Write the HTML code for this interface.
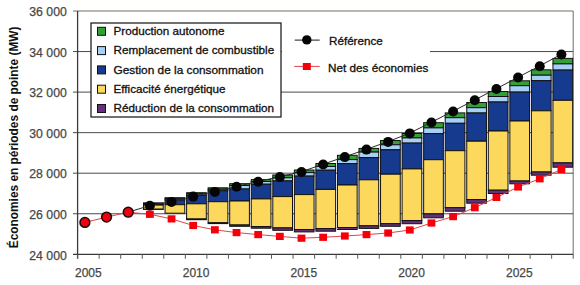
<!DOCTYPE html>
<html><head><meta charset="utf-8"><style>
html,body{margin:0;padding:0;background:#fff;}
svg{display:block;font-family:"Liberation Sans",sans-serif;}
</style></head><body>
<svg width="580" height="285" viewBox="0 0 580 285">
<line x1="73" y1="11.0" x2="573.2" y2="11.0" stroke="#a59f96" stroke-width="1.3"/>
<line x1="573.2" y1="11.0" x2="573.2" y2="254.3" stroke="#7a7a7a" stroke-width="1.1"/>
<line x1="73" y1="51.55" x2="573.2" y2="51.55" stroke="#4a4a4a" stroke-width="1"/>
<line x1="73" y1="92.10" x2="573.2" y2="92.10" stroke="#4a4a4a" stroke-width="1"/>
<line x1="73" y1="132.65" x2="573.2" y2="132.65" stroke="#4a4a4a" stroke-width="1"/>
<line x1="73" y1="173.20" x2="573.2" y2="173.20" stroke="#4a4a4a" stroke-width="1"/>
<line x1="73" y1="213.75" x2="573.2" y2="213.75" stroke="#4a4a4a" stroke-width="1"/>
<line x1="73" y1="254.3" x2="573.2" y2="254.3" stroke="#3a3a3a" stroke-width="1.3"/>
<line x1="77.6" y1="11.0" x2="77.6" y2="258.8" stroke="#3a3a3a" stroke-width="1.3"/>
<line x1="77.60" y1="254.3" x2="77.60" y2="258.8" stroke="#5a5a5a" stroke-width="1"/>
<line x1="99.15" y1="254.3" x2="99.15" y2="258.8" stroke="#5a5a5a" stroke-width="1"/>
<line x1="120.70" y1="254.3" x2="120.70" y2="258.8" stroke="#5a5a5a" stroke-width="1"/>
<line x1="142.24" y1="254.3" x2="142.24" y2="258.8" stroke="#5a5a5a" stroke-width="1"/>
<line x1="163.79" y1="254.3" x2="163.79" y2="258.8" stroke="#5a5a5a" stroke-width="1"/>
<line x1="185.34" y1="254.3" x2="185.34" y2="258.8" stroke="#5a5a5a" stroke-width="1"/>
<line x1="206.89" y1="254.3" x2="206.89" y2="258.8" stroke="#5a5a5a" stroke-width="1"/>
<line x1="228.43" y1="254.3" x2="228.43" y2="258.8" stroke="#5a5a5a" stroke-width="1"/>
<line x1="249.98" y1="254.3" x2="249.98" y2="258.8" stroke="#5a5a5a" stroke-width="1"/>
<line x1="271.53" y1="254.3" x2="271.53" y2="258.8" stroke="#5a5a5a" stroke-width="1"/>
<line x1="293.08" y1="254.3" x2="293.08" y2="258.8" stroke="#5a5a5a" stroke-width="1"/>
<line x1="314.63" y1="254.3" x2="314.63" y2="258.8" stroke="#5a5a5a" stroke-width="1"/>
<line x1="336.17" y1="254.3" x2="336.17" y2="258.8" stroke="#5a5a5a" stroke-width="1"/>
<line x1="357.72" y1="254.3" x2="357.72" y2="258.8" stroke="#5a5a5a" stroke-width="1"/>
<line x1="379.27" y1="254.3" x2="379.27" y2="258.8" stroke="#5a5a5a" stroke-width="1"/>
<line x1="400.82" y1="254.3" x2="400.82" y2="258.8" stroke="#5a5a5a" stroke-width="1"/>
<line x1="422.37" y1="254.3" x2="422.37" y2="258.8" stroke="#5a5a5a" stroke-width="1"/>
<line x1="443.91" y1="254.3" x2="443.91" y2="258.8" stroke="#5a5a5a" stroke-width="1"/>
<line x1="465.46" y1="254.3" x2="465.46" y2="258.8" stroke="#5a5a5a" stroke-width="1"/>
<line x1="487.01" y1="254.3" x2="487.01" y2="258.8" stroke="#5a5a5a" stroke-width="1"/>
<line x1="508.56" y1="254.3" x2="508.56" y2="258.8" stroke="#5a5a5a" stroke-width="1"/>
<line x1="530.10" y1="254.3" x2="530.10" y2="258.8" stroke="#5a5a5a" stroke-width="1"/>
<line x1="551.65" y1="254.3" x2="551.65" y2="258.8" stroke="#5a5a5a" stroke-width="1"/>
<line x1="573.20" y1="254.3" x2="573.20" y2="258.8" stroke="#5a5a5a" stroke-width="1"/>
<text x="66.8" y="16.20" text-anchor="end" font-size="12" fill="#474747" stroke="#474747" stroke-width="0.25" textLength="37.5" lengthAdjust="spacingAndGlyphs">36 000</text>
<text x="66.8" y="56.75" text-anchor="end" font-size="12" fill="#474747" stroke="#474747" stroke-width="0.25" textLength="37.5" lengthAdjust="spacingAndGlyphs">34 000</text>
<text x="66.8" y="97.30" text-anchor="end" font-size="12" fill="#474747" stroke="#474747" stroke-width="0.25" textLength="37.5" lengthAdjust="spacingAndGlyphs">32 000</text>
<text x="66.8" y="137.85" text-anchor="end" font-size="12" fill="#474747" stroke="#474747" stroke-width="0.25" textLength="37.5" lengthAdjust="spacingAndGlyphs">30 000</text>
<text x="66.8" y="178.40" text-anchor="end" font-size="12" fill="#474747" stroke="#474747" stroke-width="0.25" textLength="37.5" lengthAdjust="spacingAndGlyphs">28 000</text>
<text x="66.8" y="218.95" text-anchor="end" font-size="12" fill="#474747" stroke="#474747" stroke-width="0.25" textLength="37.5" lengthAdjust="spacingAndGlyphs">26 000</text>
<text x="66.8" y="259.50" text-anchor="end" font-size="12" fill="#474747" stroke="#474747" stroke-width="0.25" textLength="37.5" lengthAdjust="spacingAndGlyphs">24 000</text>
<text x="88.37" y="277" text-anchor="middle" font-size="12" fill="#474747" stroke="#474747" stroke-width="0.25">2005</text>
<text x="196.11" y="277" text-anchor="middle" font-size="12" fill="#474747" stroke="#474747" stroke-width="0.25">2010</text>
<text x="303.85" y="277" text-anchor="middle" font-size="12" fill="#474747" stroke="#474747" stroke-width="0.25">2015</text>
<text x="411.59" y="277" text-anchor="middle" font-size="12" fill="#474747" stroke="#474747" stroke-width="0.25">2020</text>
<text x="519.33" y="277" text-anchor="middle" font-size="12" fill="#474747" stroke="#474747" stroke-width="0.25">2025</text>
<text transform="translate(17.5,137.4) rotate(-90)" text-anchor="middle" font-size="12" font-weight="bold" fill="#111" textLength="221.8" lengthAdjust="spacingAndGlyphs">Économies en périodes de pointe (MW)</text>
<rect x="143.50" y="202.90" width="19.7" height="0.50" fill="#33a035" stroke="#111" stroke-width="1"/>
<rect x="143.50" y="203.40" width="19.7" height="0.50" fill="#a6d0f5" stroke="#111" stroke-width="1"/>
<rect x="143.50" y="203.90" width="19.7" height="1.20" fill="#163a8e" stroke="#111" stroke-width="1"/>
<rect x="143.50" y="205.10" width="19.7" height="4.10" fill="#fcd95c" stroke="#111" stroke-width="1"/>
<rect x="143.50" y="209.20" width="19.7" height="0.10" fill="#66307a" stroke="#111" stroke-width="1"/>
<rect x="165.05" y="197.70" width="19.7" height="1.10" fill="#33a035" stroke="#111" stroke-width="1"/>
<rect x="165.05" y="198.80" width="19.7" height="1.20" fill="#a6d0f5" stroke="#111" stroke-width="1"/>
<rect x="165.05" y="200.00" width="19.7" height="4.70" fill="#163a8e" stroke="#111" stroke-width="1"/>
<rect x="165.05" y="204.70" width="19.7" height="8.50" fill="#fcd95c" stroke="#111" stroke-width="1"/>
<rect x="186.60" y="192.70" width="19.7" height="1.20" fill="#33a035" stroke="#111" stroke-width="1"/>
<rect x="186.60" y="193.90" width="19.7" height="1.40" fill="#a6d0f5" stroke="#111" stroke-width="1"/>
<rect x="186.60" y="195.30" width="19.7" height="8.50" fill="#163a8e" stroke="#111" stroke-width="1"/>
<rect x="186.60" y="203.80" width="19.7" height="15.20" fill="#fcd95c" stroke="#111" stroke-width="1"/>
<rect x="186.60" y="219.00" width="19.7" height="0.70" fill="#66307a" stroke="#111" stroke-width="1"/>
<rect x="208.15" y="187.80" width="19.7" height="1.50" fill="#33a035" stroke="#111" stroke-width="1"/>
<rect x="208.15" y="189.30" width="19.7" height="1.50" fill="#a6d0f5" stroke="#111" stroke-width="1"/>
<rect x="208.15" y="190.80" width="19.7" height="10.90" fill="#163a8e" stroke="#111" stroke-width="1"/>
<rect x="208.15" y="201.70" width="19.7" height="21.10" fill="#fcd95c" stroke="#111" stroke-width="1"/>
<rect x="208.15" y="222.80" width="19.7" height="0.80" fill="#66307a" stroke="#111" stroke-width="1"/>
<rect x="229.70" y="183.70" width="19.7" height="1.80" fill="#33a035" stroke="#111" stroke-width="1"/>
<rect x="229.70" y="185.50" width="19.7" height="3.50" fill="#a6d0f5" stroke="#111" stroke-width="1"/>
<rect x="229.70" y="189.00" width="19.7" height="12.00" fill="#163a8e" stroke="#111" stroke-width="1"/>
<rect x="229.70" y="201.00" width="19.7" height="24.00" fill="#fcd95c" stroke="#111" stroke-width="1"/>
<rect x="229.70" y="225.00" width="19.7" height="1.30" fill="#66307a" stroke="#111" stroke-width="1"/>
<rect x="251.25" y="179.60" width="19.7" height="1.90" fill="#33a035" stroke="#111" stroke-width="1"/>
<rect x="251.25" y="181.50" width="19.7" height="2.70" fill="#a6d0f5" stroke="#111" stroke-width="1"/>
<rect x="251.25" y="184.20" width="19.7" height="14.70" fill="#163a8e" stroke="#111" stroke-width="1"/>
<rect x="251.25" y="198.90" width="19.7" height="27.70" fill="#fcd95c" stroke="#111" stroke-width="1"/>
<rect x="251.25" y="226.60" width="19.7" height="1.60" fill="#66307a" stroke="#111" stroke-width="1"/>
<rect x="272.80" y="175.00" width="19.7" height="2.80" fill="#33a035" stroke="#111" stroke-width="1"/>
<rect x="272.80" y="177.80" width="19.7" height="3.10" fill="#a6d0f5" stroke="#111" stroke-width="1"/>
<rect x="272.80" y="180.90" width="19.7" height="15.70" fill="#163a8e" stroke="#111" stroke-width="1"/>
<rect x="272.80" y="196.60" width="19.7" height="31.30" fill="#fcd95c" stroke="#111" stroke-width="1"/>
<rect x="272.80" y="227.90" width="19.7" height="2.40" fill="#66307a" stroke="#111" stroke-width="1"/>
<rect x="294.35" y="170.00" width="19.7" height="2.60" fill="#33a035" stroke="#111" stroke-width="1"/>
<rect x="294.35" y="172.60" width="19.7" height="3.50" fill="#a6d0f5" stroke="#111" stroke-width="1"/>
<rect x="294.35" y="176.10" width="19.7" height="18.50" fill="#163a8e" stroke="#111" stroke-width="1"/>
<rect x="294.35" y="194.60" width="19.7" height="34.90" fill="#fcd95c" stroke="#111" stroke-width="1"/>
<rect x="294.35" y="229.50" width="19.7" height="2.40" fill="#66307a" stroke="#111" stroke-width="1"/>
<rect x="315.90" y="163.50" width="19.7" height="3.00" fill="#33a035" stroke="#111" stroke-width="1"/>
<rect x="315.90" y="166.50" width="19.7" height="3.70" fill="#a6d0f5" stroke="#111" stroke-width="1"/>
<rect x="315.90" y="170.20" width="19.7" height="19.20" fill="#163a8e" stroke="#111" stroke-width="1"/>
<rect x="315.90" y="189.40" width="19.7" height="39.20" fill="#fcd95c" stroke="#111" stroke-width="1"/>
<rect x="315.90" y="228.60" width="19.7" height="2.60" fill="#66307a" stroke="#111" stroke-width="1"/>
<rect x="337.45" y="155.30" width="19.7" height="4.30" fill="#33a035" stroke="#111" stroke-width="1"/>
<rect x="337.45" y="159.60" width="19.7" height="4.00" fill="#a6d0f5" stroke="#111" stroke-width="1"/>
<rect x="337.45" y="163.60" width="19.7" height="21.40" fill="#163a8e" stroke="#111" stroke-width="1"/>
<rect x="337.45" y="185.00" width="19.7" height="42.50" fill="#fcd95c" stroke="#111" stroke-width="1"/>
<rect x="337.45" y="227.50" width="19.7" height="2.00" fill="#66307a" stroke="#111" stroke-width="1"/>
<rect x="359.00" y="148.40" width="19.7" height="3.70" fill="#33a035" stroke="#111" stroke-width="1"/>
<rect x="359.00" y="152.10" width="19.7" height="5.50" fill="#a6d0f5" stroke="#111" stroke-width="1"/>
<rect x="359.00" y="157.60" width="19.7" height="22.20" fill="#163a8e" stroke="#111" stroke-width="1"/>
<rect x="359.00" y="179.80" width="19.7" height="46.00" fill="#fcd95c" stroke="#111" stroke-width="1"/>
<rect x="359.00" y="225.80" width="19.7" height="2.60" fill="#66307a" stroke="#111" stroke-width="1"/>
<rect x="380.55" y="140.50" width="19.7" height="4.30" fill="#33a035" stroke="#111" stroke-width="1"/>
<rect x="380.55" y="144.80" width="19.7" height="5.00" fill="#a6d0f5" stroke="#111" stroke-width="1"/>
<rect x="380.55" y="149.80" width="19.7" height="24.40" fill="#163a8e" stroke="#111" stroke-width="1"/>
<rect x="380.55" y="174.20" width="19.7" height="49.50" fill="#fcd95c" stroke="#111" stroke-width="1"/>
<rect x="380.55" y="223.70" width="19.7" height="2.60" fill="#66307a" stroke="#111" stroke-width="1"/>
<rect x="402.10" y="133.50" width="19.7" height="4.40" fill="#33a035" stroke="#111" stroke-width="1"/>
<rect x="402.10" y="137.90" width="19.7" height="5.20" fill="#a6d0f5" stroke="#111" stroke-width="1"/>
<rect x="402.10" y="143.10" width="19.7" height="25.80" fill="#163a8e" stroke="#111" stroke-width="1"/>
<rect x="402.10" y="168.90" width="19.7" height="51.70" fill="#fcd95c" stroke="#111" stroke-width="1"/>
<rect x="402.10" y="220.60" width="19.7" height="3.10" fill="#66307a" stroke="#111" stroke-width="1"/>
<rect x="423.65" y="122.70" width="19.7" height="5.20" fill="#33a035" stroke="#111" stroke-width="1"/>
<rect x="423.65" y="127.90" width="19.7" height="5.70" fill="#a6d0f5" stroke="#111" stroke-width="1"/>
<rect x="423.65" y="133.60" width="19.7" height="26.10" fill="#163a8e" stroke="#111" stroke-width="1"/>
<rect x="423.65" y="159.70" width="19.7" height="54.20" fill="#fcd95c" stroke="#111" stroke-width="1"/>
<rect x="423.65" y="213.90" width="19.7" height="3.90" fill="#66307a" stroke="#111" stroke-width="1"/>
<rect x="445.20" y="112.90" width="19.7" height="4.80" fill="#33a035" stroke="#111" stroke-width="1"/>
<rect x="445.20" y="117.70" width="19.7" height="5.60" fill="#a6d0f5" stroke="#111" stroke-width="1"/>
<rect x="445.20" y="123.30" width="19.7" height="27.40" fill="#163a8e" stroke="#111" stroke-width="1"/>
<rect x="445.20" y="150.70" width="19.7" height="57.00" fill="#fcd95c" stroke="#111" stroke-width="1"/>
<rect x="445.20" y="207.70" width="19.7" height="3.50" fill="#66307a" stroke="#111" stroke-width="1"/>
<rect x="466.75" y="102.50" width="19.7" height="5.20" fill="#33a035" stroke="#111" stroke-width="1"/>
<rect x="466.75" y="107.70" width="19.7" height="5.30" fill="#a6d0f5" stroke="#111" stroke-width="1"/>
<rect x="466.75" y="113.00" width="19.7" height="28.20" fill="#163a8e" stroke="#111" stroke-width="1"/>
<rect x="466.75" y="141.20" width="19.7" height="58.40" fill="#fcd95c" stroke="#111" stroke-width="1"/>
<rect x="466.75" y="199.60" width="19.7" height="3.60" fill="#66307a" stroke="#111" stroke-width="1"/>
<rect x="488.30" y="91.50" width="19.7" height="5.00" fill="#33a035" stroke="#111" stroke-width="1"/>
<rect x="488.30" y="96.50" width="19.7" height="5.50" fill="#a6d0f5" stroke="#111" stroke-width="1"/>
<rect x="488.30" y="102.00" width="19.7" height="29.00" fill="#163a8e" stroke="#111" stroke-width="1"/>
<rect x="488.30" y="131.00" width="19.7" height="59.20" fill="#fcd95c" stroke="#111" stroke-width="1"/>
<rect x="488.30" y="190.20" width="19.7" height="3.30" fill="#66307a" stroke="#111" stroke-width="1"/>
<rect x="509.85" y="80.80" width="19.7" height="4.90" fill="#33a035" stroke="#111" stroke-width="1"/>
<rect x="509.85" y="85.70" width="19.7" height="6.40" fill="#a6d0f5" stroke="#111" stroke-width="1"/>
<rect x="509.85" y="92.10" width="19.7" height="28.90" fill="#163a8e" stroke="#111" stroke-width="1"/>
<rect x="509.85" y="121.00" width="19.7" height="60.00" fill="#fcd95c" stroke="#111" stroke-width="1"/>
<rect x="509.85" y="181.00" width="19.7" height="2.80" fill="#66307a" stroke="#111" stroke-width="1"/>
<rect x="531.40" y="69.80" width="19.7" height="5.40" fill="#33a035" stroke="#111" stroke-width="1"/>
<rect x="531.40" y="75.20" width="19.7" height="5.50" fill="#a6d0f5" stroke="#111" stroke-width="1"/>
<rect x="531.40" y="80.70" width="19.7" height="30.10" fill="#163a8e" stroke="#111" stroke-width="1"/>
<rect x="531.40" y="110.80" width="19.7" height="61.20" fill="#fcd95c" stroke="#111" stroke-width="1"/>
<rect x="531.40" y="172.00" width="19.7" height="3.20" fill="#66307a" stroke="#111" stroke-width="1"/>
<rect x="552.95" y="58.40" width="19.7" height="5.50" fill="#33a035" stroke="#111" stroke-width="1"/>
<rect x="552.95" y="63.90" width="19.7" height="6.20" fill="#a6d0f5" stroke="#111" stroke-width="1"/>
<rect x="552.95" y="70.10" width="19.7" height="30.20" fill="#163a8e" stroke="#111" stroke-width="1"/>
<rect x="552.95" y="100.30" width="19.7" height="62.60" fill="#fcd95c" stroke="#111" stroke-width="1"/>
<rect x="552.95" y="162.90" width="19.7" height="4.30" fill="#66307a" stroke="#111" stroke-width="1"/>
<polyline points="128.22,212.20 149.88,205.50 171.54,201.60 193.20,196.30 214.86,191.60 236.52,186.40 258.18,181.40 279.84,176.80 301.50,171.70 323.16,164.20 344.82,156.80 366.48,149.30 388.14,141.60 409.80,133.10 431.46,122.20 453.12,111.20 474.78,99.90 496.44,88.70 518.10,77.20 539.76,65.90 561.42,54.20" fill="none" stroke="#2a2a2a" stroke-width="1"/>
<polyline points="84.90,222.40 106.56,217.10 128.22,212.20 149.88,214.30 171.54,218.90 193.20,225.50 214.86,229.80 236.52,232.60 258.18,234.60 279.84,236.40 301.50,238.20 323.16,237.30 344.82,236.00 366.48,234.60 388.14,233.00 409.80,230.00 431.46,223.00 453.12,216.60 474.78,207.70 496.44,197.40 518.10,187.00 539.76,178.80 561.42,169.50" fill="none" stroke="#e2434b" stroke-width="1"/>
<circle cx="149.88" cy="205.80" r="5" fill="#050505"/>
<circle cx="171.54" cy="201.90" r="5" fill="#050505"/>
<circle cx="193.20" cy="196.60" r="5" fill="#050505"/>
<circle cx="214.86" cy="191.90" r="5" fill="#050505"/>
<circle cx="236.52" cy="186.70" r="5" fill="#050505"/>
<circle cx="258.18" cy="181.70" r="5" fill="#050505"/>
<circle cx="279.84" cy="177.10" r="5" fill="#050505"/>
<circle cx="301.50" cy="172.00" r="5" fill="#050505"/>
<circle cx="323.16" cy="164.50" r="5" fill="#050505"/>
<circle cx="344.82" cy="157.10" r="5" fill="#050505"/>
<circle cx="366.48" cy="149.60" r="5" fill="#050505"/>
<circle cx="388.14" cy="141.90" r="5" fill="#050505"/>
<circle cx="409.80" cy="133.40" r="5" fill="#050505"/>
<circle cx="431.46" cy="122.50" r="5" fill="#050505"/>
<circle cx="453.12" cy="111.50" r="5" fill="#050505"/>
<circle cx="474.78" cy="100.20" r="5" fill="#050505"/>
<circle cx="496.44" cy="89.00" r="5" fill="#050505"/>
<circle cx="518.10" cy="77.50" r="5" fill="#050505"/>
<circle cx="539.76" cy="66.20" r="5" fill="#050505"/>
<circle cx="561.42" cy="54.50" r="5" fill="#050505"/>
<rect x="145.98" y="210.70" width="7.8" height="7.2" fill="#f5000a"/>
<rect x="167.64" y="215.30" width="7.8" height="7.2" fill="#f5000a"/>
<rect x="189.30" y="221.90" width="7.8" height="7.2" fill="#f5000a"/>
<rect x="210.96" y="226.20" width="7.8" height="7.2" fill="#f5000a"/>
<rect x="232.62" y="229.00" width="7.8" height="7.2" fill="#f5000a"/>
<rect x="254.28" y="231.00" width="7.8" height="7.2" fill="#f5000a"/>
<rect x="275.94" y="232.80" width="7.8" height="7.2" fill="#f5000a"/>
<rect x="297.60" y="234.60" width="7.8" height="7.2" fill="#f5000a"/>
<rect x="319.26" y="233.70" width="7.8" height="7.2" fill="#f5000a"/>
<rect x="340.92" y="232.40" width="7.8" height="7.2" fill="#f5000a"/>
<rect x="362.58" y="231.00" width="7.8" height="7.2" fill="#f5000a"/>
<rect x="384.24" y="229.40" width="7.8" height="7.2" fill="#f5000a"/>
<rect x="405.90" y="226.40" width="7.8" height="7.2" fill="#f5000a"/>
<rect x="427.56" y="219.40" width="7.8" height="7.2" fill="#f5000a"/>
<rect x="449.22" y="213.00" width="7.8" height="7.2" fill="#f5000a"/>
<rect x="470.88" y="204.10" width="7.8" height="7.2" fill="#f5000a"/>
<rect x="492.54" y="193.80" width="7.8" height="7.2" fill="#f5000a"/>
<rect x="514.20" y="183.40" width="7.8" height="7.2" fill="#f5000a"/>
<rect x="535.86" y="175.20" width="7.8" height="7.2" fill="#f5000a"/>
<rect x="557.52" y="165.90" width="7.8" height="7.2" fill="#f5000a"/>
<circle cx="84.90" cy="222.40" r="4.9" fill="#f00010" stroke="#1a0a0a" stroke-width="1.5"/>
<circle cx="106.56" cy="217.10" r="4.9" fill="#f00010" stroke="#1a0a0a" stroke-width="1.5"/>
<circle cx="128.22" cy="212.20" r="4.9" fill="#f00010" stroke="#1a0a0a" stroke-width="1.5"/>
<rect x="91" y="23" width="190" height="94" fill="#fff" stroke="#222" stroke-width="1.3"/>
<rect x="97.5" y="27.30" width="8" height="8" fill="#33a035" stroke="#111" stroke-width="1"/>
<text x="113.5" y="35.00" font-size="11" fill="#111" stroke="#111" stroke-width="0.3" textLength="110.9" lengthAdjust="spacingAndGlyphs">Production autonome</text>
<rect x="97.5" y="46.60" width="8" height="8" fill="#a6d0f5" stroke="#111" stroke-width="1"/>
<text x="113.5" y="54.30" font-size="11" fill="#111" stroke="#111" stroke-width="0.3" textLength="160.7" lengthAdjust="spacingAndGlyphs">Remplacement de combustible</text>
<rect x="97.5" y="65.90" width="8" height="8" fill="#163a8e" stroke="#111" stroke-width="1"/>
<text x="113.5" y="73.60" font-size="11" fill="#111" stroke="#111" stroke-width="0.3" textLength="150" lengthAdjust="spacingAndGlyphs">Gestion de la consommation</text>
<rect x="97.5" y="85.20" width="8" height="8" fill="#fcd95c" stroke="#111" stroke-width="1"/>
<text x="113.5" y="92.90" font-size="11" fill="#111" stroke="#111" stroke-width="0.3" textLength="112" lengthAdjust="spacingAndGlyphs">Efficacité énergétique</text>
<rect x="97.5" y="104.50" width="8" height="8" fill="#66307a" stroke="#111" stroke-width="1"/>
<text x="113.5" y="112.20" font-size="11" fill="#111" stroke="#111" stroke-width="0.3" textLength="160.5" lengthAdjust="spacingAndGlyphs">Réduction de la consommation</text>
<rect x="282" y="24" width="148" height="60" fill="#fff"/>
<line x1="294.7" y1="40.1" x2="319.7" y2="40.1" stroke="#1a1a1a" stroke-width="1"/>
<circle cx="306.8" cy="39.9" r="4.7" fill="#050505"/>
<text x="329" y="45.3" font-size="11" fill="#111" stroke="#111" stroke-width="0.3" textLength="53.8" lengthAdjust="spacingAndGlyphs">Référence</text>
<line x1="294.2" y1="66.4" x2="319.7" y2="66.4" stroke="#e2434b" stroke-width="1"/>
<rect x="302.8" y="63" width="8" height="7" fill="#f5000a"/>
<text x="328" y="72.1" font-size="11" fill="#111" stroke="#111" stroke-width="0.3" textLength="100.3" lengthAdjust="spacingAndGlyphs">Net des économies</text>
</svg>
</body></html>
